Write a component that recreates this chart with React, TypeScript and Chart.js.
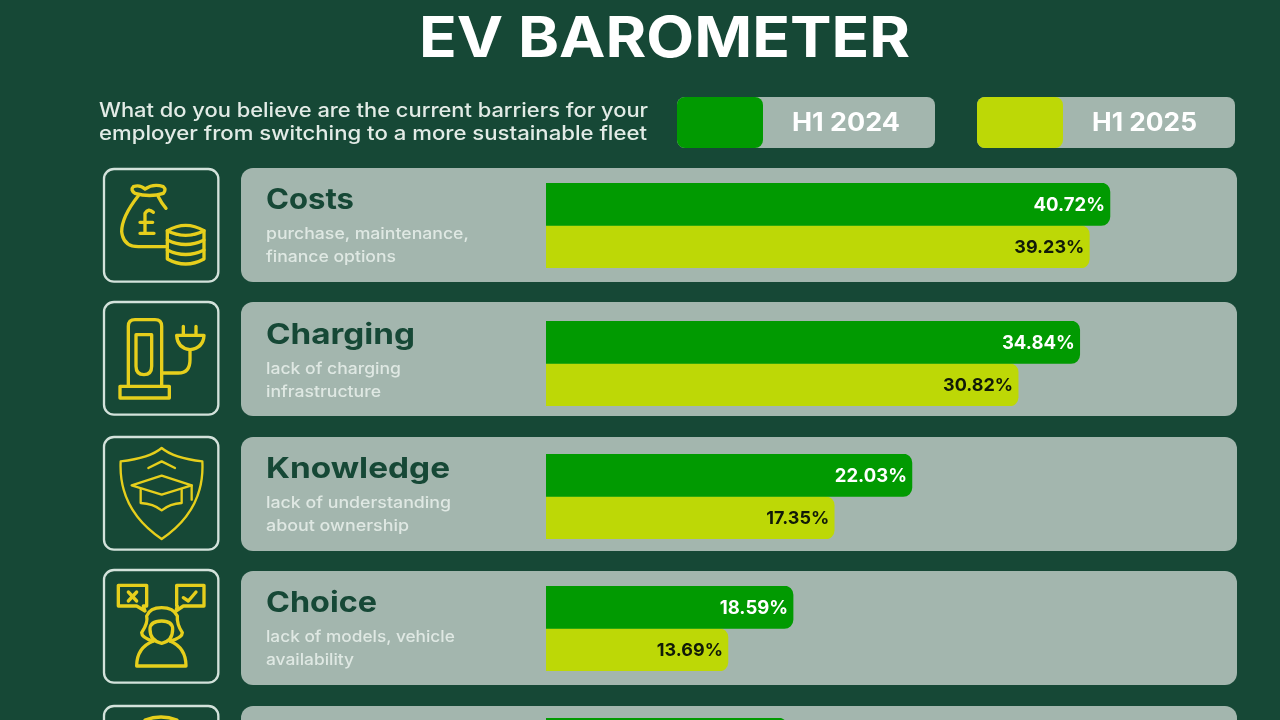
import React, { useEffect, useRef } from "react";
import { Chart, registerables } from "chart.js";

Chart.register(...registerables);

const seriesNames = ["H1 2024", "H1 2025"];
const categories = ["Costs", "Charging", "Knowledge", "Choice"];
const subLines = [
  ["purchase, maintenance,", "finance options"],
  ["lack of charging", "infrastructure"],
  ["lack of understanding", "about ownership"],
  ["lack of models, vehicle", "availability"],
];
// The fifth row is cut by the bottom of the picture: only the top of its first bar shows.
const h12024 = [40.72, 34.84, 22.03, 18.59, 17.0];
const h12025 = [39.23, 30.82, 17.35, 13.69, null];
// The source infographic does not share one scale between its rows.
const rowAxisMax = [49.39, 44.65, 41.18, 51.47, 48.2];

const BG = "#164836";
const PANEL = "#a3b6ae";
const GREEN = "#019a01";
const LIME = "#bdd806";
const ICON = "#e6cf1c";
const FRAME = "#d3e2db";
const FAMILY = "Inter, 'Open Sans', sans-serif";

const panelTops = [168, 302, 437, 571, 706];
const frameTops = [165, 298, 433, 566, 702];
const barTops = [183, 321, 454, 586, 718];
const headingWidths = [88, 149, 184, 111];
const subWidths = [[203, 130], [135, 115], [185, 143], [189, 88]];

const measurer = document.createElement("canvas").getContext("2d")!;
function stretch(text: string, font: string, width: number) {
  measurer.font = font;
  return width / measurer.measureText(text).width;
}

function T(props: { text: string; x: number; cy: number; w: number; size: number; weight: number; color: string }) {
  const { text, x, cy, w, size, weight, color } = props;
  const font = `${weight} ${size}px Inter`;
  return (
    <div
      style={{
        position: "absolute",
        left: x,
        top: cy - size,
        height: size * 2,
        lineHeight: size * 2 + "px",
        whiteSpace: "nowrap",
        fontFamily: FAMILY,
        fontSize: size,
        fontWeight: weight,
        color,
        transformOrigin: "left center",
        transform: `scaleX(${stretch(text, font, w)})`,
      }}
    >
      {text}
    </div>
  );
}

const iconPaths = [
  [
    "M100 65 Q120 58 135 72 Q160 55 190 65 Q200 74 190 85 Q150 98 105 85 Q90 75 100 65Z",
    "M115 92 Q65 155 65 200 Q70 245 115 245 L198 245",
    "M175 95 Q185 115 198 130",
    "M160 142 Q145 128 135 145 L135 203 M120 172 L158 172 M120 205 L162 205",
    "M202 197 Q257 165 312 197 Q257 225 202 197 Z",
    "M202 197 V282 Q257 312 312 282 V197",
    "M202 225 Q257 252 312 225",
    "M202 255 Q257 282 312 255",
  ],
  [
    "M85 262 V85 Q85 65 105 65 H165 Q185 65 185 85 V262",
    "M108 110 H155 V205 Q155 230 132 230 Q108 230 108 205 Z",
    "M60 265 H208 V300 H60 Z",
    "M185 225 H235 Q270 225 270 185 V155",
    "M230 112 H312 Q310 150 270 155 Q232 150 230 112 Z",
    "M250 85 V112 M288 85 V112",
  ],
  [
    "M185 45 Q150 75 62 85 Q55 230 185 318 Q315 230 307 85 Q220 75 185 45 Z",
    "M145 105 L185 85 L225 105",
    "M95 157 L185 128 L275 157 L185 185 Z",
    "M122 170 V210 Q160 212 185 232 Q210 212 245 210 V170",
    "M275 157 V200",
  ],
  [
    "M55 58 H140 V120 H130 L135 135 L110 120 H55 Z",
    "M85 78 L110 105 M110 78 L85 105",
    "M230 58 H312 V120 H250 L228 135 L232 120 H230 Z",
    "M250 95 L265 105 L288 78",
    "M160 225 Q125 215 125 200 Q145 170 140 150 Q150 125 185 125 Q220 125 232 150 Q230 175 247 200 Q247 215 210 225",
    "M150 190 Q150 165 185 165 Q218 165 218 190 Q218 225 185 232 Q150 225 150 190Z",
    "M160 225 Q110 245 110 300 H258 Q258 245 210 225",
  ],
  ["M135 54 Q183 36 231 54"],
];

const valueLabels = {
  id: "valueLabels",
  afterDatasetsDraw(chart: any) {
    const row = chart.options.plugins.valueLabels.row;
    if (row >= categories.length) return;
    const ctx = chart.ctx;
    ctx.save();
    ctx.textAlign = "right";
    ctx.textBaseline = "middle";
    chart.data.datasets.forEach((ds: any, i: number) => {
      const bar = chart.getDatasetMeta(i).data[0];
      ctx.font = `700 ${i === 0 ? 18.5 : 18}px ${FAMILY}`;
      ctx.fillStyle = i === 0 ? "#ffffff" : "#111a08";
      ctx.fillText(ds.data[0].toFixed(2) + "%", bar.x - 5, bar.y + 1);
    });
    ctx.restore();
  },
};

function Legend({ x, color, label, textX, textW }: { x: number; color: string; label: string; textX: number; textW: number }) {
  return (
    <>
      <div style={{ position: "absolute", left: x, top: 97, width: 258, height: 51, borderRadius: 8, background: PANEL }} />
      <div style={{ position: "absolute", left: x, top: 97, width: 86, height: 51, borderRadius: 8, background: color }} />
      <T text={label} x={textX} cy={122} w={textW} size={25} weight={700} color="#ffffff" />
    </>
  );
}

export default function App() {
  const refs = useRef<(HTMLCanvasElement | null)[]>([]);

  useEffect(() => {
    const charts = h12024.map((v, r) => {
      const second = h12025[r];
      return new Chart(refs.current[r]!, {
        type: "bar",
        plugins: [valueLabels],
        data: {
          labels: [categories[r] ?? ""],
          datasets: [
            { label: seriesNames[0], data: [v], backgroundColor: GREEN, borderRadius: 9 },
            { label: seriesNames[1], data: [second], backgroundColor: LIME, borderRadius: 9 },
          ],
        },
        options: {
          indexAxis: "y",
          animation: false,
          responsive: false,
          devicePixelRatio: 1,
          layout: { padding: 0 },
          datasets: { bar: { categoryPercentage: 1, barPercentage: 1 } },
          scales: {
            x: { display: false, min: 0, max: rowAxisMax[r] },
            y: { display: false },
          },
          plugins: {
            legend: { display: false },
            tooltip: { enabled: false },
            valueLabels: { row: r },
          },
        } as any,
      });
    });
    return () => charts.forEach((c) => c.destroy());
  }, []);

  return (
    <div
      style={{
        position: "fixed",
        left: 0,
        top: 0,
        width: 1280,
        height: 720,
        overflow: "hidden",
        background: BG,
      }}
    >
      <div style={{ position: "absolute", inset: 0, filter: "blur(0.5px)" }}>
        <T text="EV BAROMETER" x={419} cy={37} w={491} size={56} weight={700} color="#ffffff" />
        <T text="What do you believe are the current barriers for your" x={99} cy={110} w={549} size={20} weight={500} color="#e2ebe6" />
        <T text="employer from switching to a more sustainable fleet" x={99} cy={133} w={548} size={20} weight={500} color="#e2ebe6" />
        <Legend x={677} color={GREEN} label={seriesNames[0]} textX={792} textW={108} />
        <Legend x={977} color={LIME} label={seriesNames[1]} textX={1092} textW={105} />

        {panelTops.map((top, r) => (
          <React.Fragment key={r}>
            <svg
              viewBox="0 0 375 375"
              width={125}
              height={125}
              style={{ position: "absolute", left: 100, top: frameTops[r] }}
              fill="none"
              strokeLinecap="round"
              strokeLinejoin="round"
            >
              <rect x={12} y={12} width={343} height={338} rx={30} stroke={FRAME} strokeWidth={7} />
              {iconPaths[r].map((d, i) => (
                <path key={i} d={d} stroke={ICON} strokeWidth={r === 2 ? 7 : 10} />
              ))}
            </svg>
            <div
              style={{
                position: "absolute",
                left: 241,
                top,
                width: 996,
                height: 114,
                borderRadius: 12,
                background: PANEL,
              }}
            />
            {r < categories.length && (
              <>
                <T text={categories[r]} x={266} cy={top + 31 + (r === 1 ? 1 : 0)} w={headingWidths[r]} size={29} weight={700} color={BG} />
                {subLines[r].map((s, i) => (
                  <T key={i} text={s} x={266} cy={top + 65 + (r === 1 ? 1 : 0) + i * 23} w={subWidths[r][i]} size={16} weight={500} color="#dfe8e3" />
                ))}
              </>
            )}
            <canvas
              ref={(el) => {
                refs.current[r] = el;
              }}
              width={684}
              height={85}
              style={{ position: "absolute", left: 546, top: barTops[r], width: 684, height: 85 }}
            />
          </React.Fragment>
        ))}
      </div>
    </div>
  );
}
